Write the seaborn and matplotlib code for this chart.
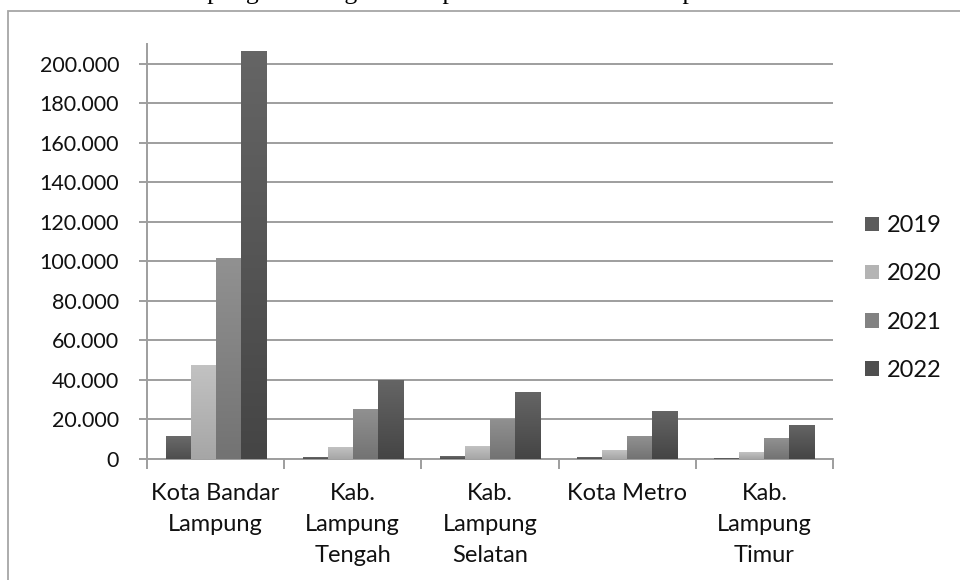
import numpy as np
import pandas as pd
import matplotlib
matplotlib.use("Agg")
import matplotlib.pyplot as plt
from matplotlib.ticker import FuncFormatter, FixedLocator
from matplotlib.patches import Rectangle
import matplotlib.colors as mcolors
import seaborn as sns

# ---- data ----
regions = ["Kota Bandar\nLampung", "Kab.\nLampung\nTengah", "Kab.\nLampung\nSelatan",
           "Kota Metro", "Kab.\nLampung\nTimur"]
years = ["2019", "2020", "2021", "2022"]
v2019 = [11600, 850, 1400, 850, 350]
v2020 = [47500, 6000, 6500, 4400, 3400]
v2021 = [101800, 25500, 20300, 11600, 10600]
v2022 = [206300, 40000, 33700, 24400, 17300]
yticks = list(range(0, 200001, 20000))

series = {"2019": v2019, "2020": v2020, "2021": v2021, "2022": v2022}
rows = []
for y in years:
    for r, v in zip(regions, series[y]):
        rows.append({"region": r, "year": y, "value": v})
df = pd.DataFrame(rows)

base = {"2019": "#5b5b5b", "2020": "#b4b4b4", "2021": "#828282", "2022": "#4f4f4f"}
tops = {"2019": "#6a6a6a", "2020": "#c2c2c2", "2021": "#919191", "2022": "#656565"}
bots = {"2019": "#4e4e4e", "2020": "#a6a6a6", "2021": "#737373", "2022": "#454545"}

sns.set_theme(style="white")
plt.rcParams["font.family"] = ["Lato", "DejaVu Sans"]

fig = plt.figure(figsize=(9.6, 5.8), dpi=100)
ax = fig.add_axes([147/960, 1-459/580, (833-147)/960, (459-44)/580])

sns.barplot(data=df, x="region", y="value", hue="year", order=regions, hue_order=years,
            palette=base, width=0.73, gap=0, saturation=1, ax=ax, zorder=3,
            edgecolor="none", linewidth=0, legend=True)

ax.set_ylim(0, 210000)
ax.set_xlim(-0.5, 4.5)

# gradient overlay on each bar, derived from patch geometry
bar_patches = [p for p in ax.patches if p.get_height() > 0 and p.get_width() < 1]
for p in bar_patches:
    fc = mcolors.to_hex(p.get_facecolor()[:3])
    yr = [k for k, c in base.items() if c.lower() == fc.lower()]
    if not yr:
        continue
    yr = yr[0]
    cmap = mcolors.LinearSegmentedColormap.from_list("g", [bots[yr], tops[yr]])
    x0, y0 = p.get_x(), p.get_y()
    w, h = p.get_width(), p.get_height()
    grad = np.linspace(0, 1, 64).reshape(-1, 1)
    im = ax.imshow(grad, extent=[x0, x0 + w, y0, y0 + h], origin="lower",
                   aspect="auto", cmap=cmap, zorder=3.5, interpolation="bilinear")
    im.set_clip_path(p)
ax.set_ylim(0, 210000)
ax.set_xlim(-0.5, 4.5)
ax.set_aspect("auto")

# axes styling
grid_c = "#9e9e9e"
ax.yaxis.set_major_locator(FixedLocator(yticks))
ax.yaxis.set_major_formatter(FuncFormatter(lambda v, _: f"{v:,.0f}".replace(",", ".")))
ax.grid(axis="y", color=grid_c, linewidth=1.4, zorder=0)
ax.set_axisbelow(True)
for s in ["top", "right"]:
    ax.spines[s].set_visible(False)
for s in ["left", "bottom"]:
    ax.spines[s].set_color(grid_c)
    ax.spines[s].set_linewidth(1.4)

ax.tick_params(axis="y", which="major", length=6, width=1.4, color=grid_c,
               direction="out", pad=14, labelsize=15.5, labelcolor="#111111", left=True)
ax.set_xticks(range(len(regions)))
ax.set_xticklabels(regions, fontsize=17, color="#111111", linespacing=1.6)
ax.set_xticks(np.arange(-0.5, 5.0, 1.0), minor=True)
ax.tick_params(axis="x", which="major", length=0, pad=17)
ax.tick_params(axis="x", which="minor", length=7, width=1.4, color=grid_c,
               direction="out", bottom=True)
ax.set_xlabel("")
ax.set_ylabel("")

# legend
handles, labels = ax.get_legend_handles_labels()
ax.legend(handles, labels, loc="center left", bbox_to_anchor=(853/960, 1-298/580),
          bbox_transform=fig.transFigure, frameon=False, fontsize=17,
          handlelength=0.62, handleheight=0.58, handletextpad=0.3, labelspacing=1.15,
          borderpad=0, labelcolor="#111111")

# document frame and clipped text line above the chart
fig.add_artist(Rectangle((8/960, -0.05), 1.2, 1 - 10.5/580 + 0.05, transform=fig.transFigure,
                         fill=False, edgecolor="#a6a6a6", linewidth=1.3))
fig.text(873/960, 1 + 1.5/580,
         "Bandar Lampung holds significant potential for the development of MSMEs.",
         ha="right", va="baseline", family=["Liberation Serif"], fontsize=18.5, color="black")

fig.savefig("out.png", dpi=100)
